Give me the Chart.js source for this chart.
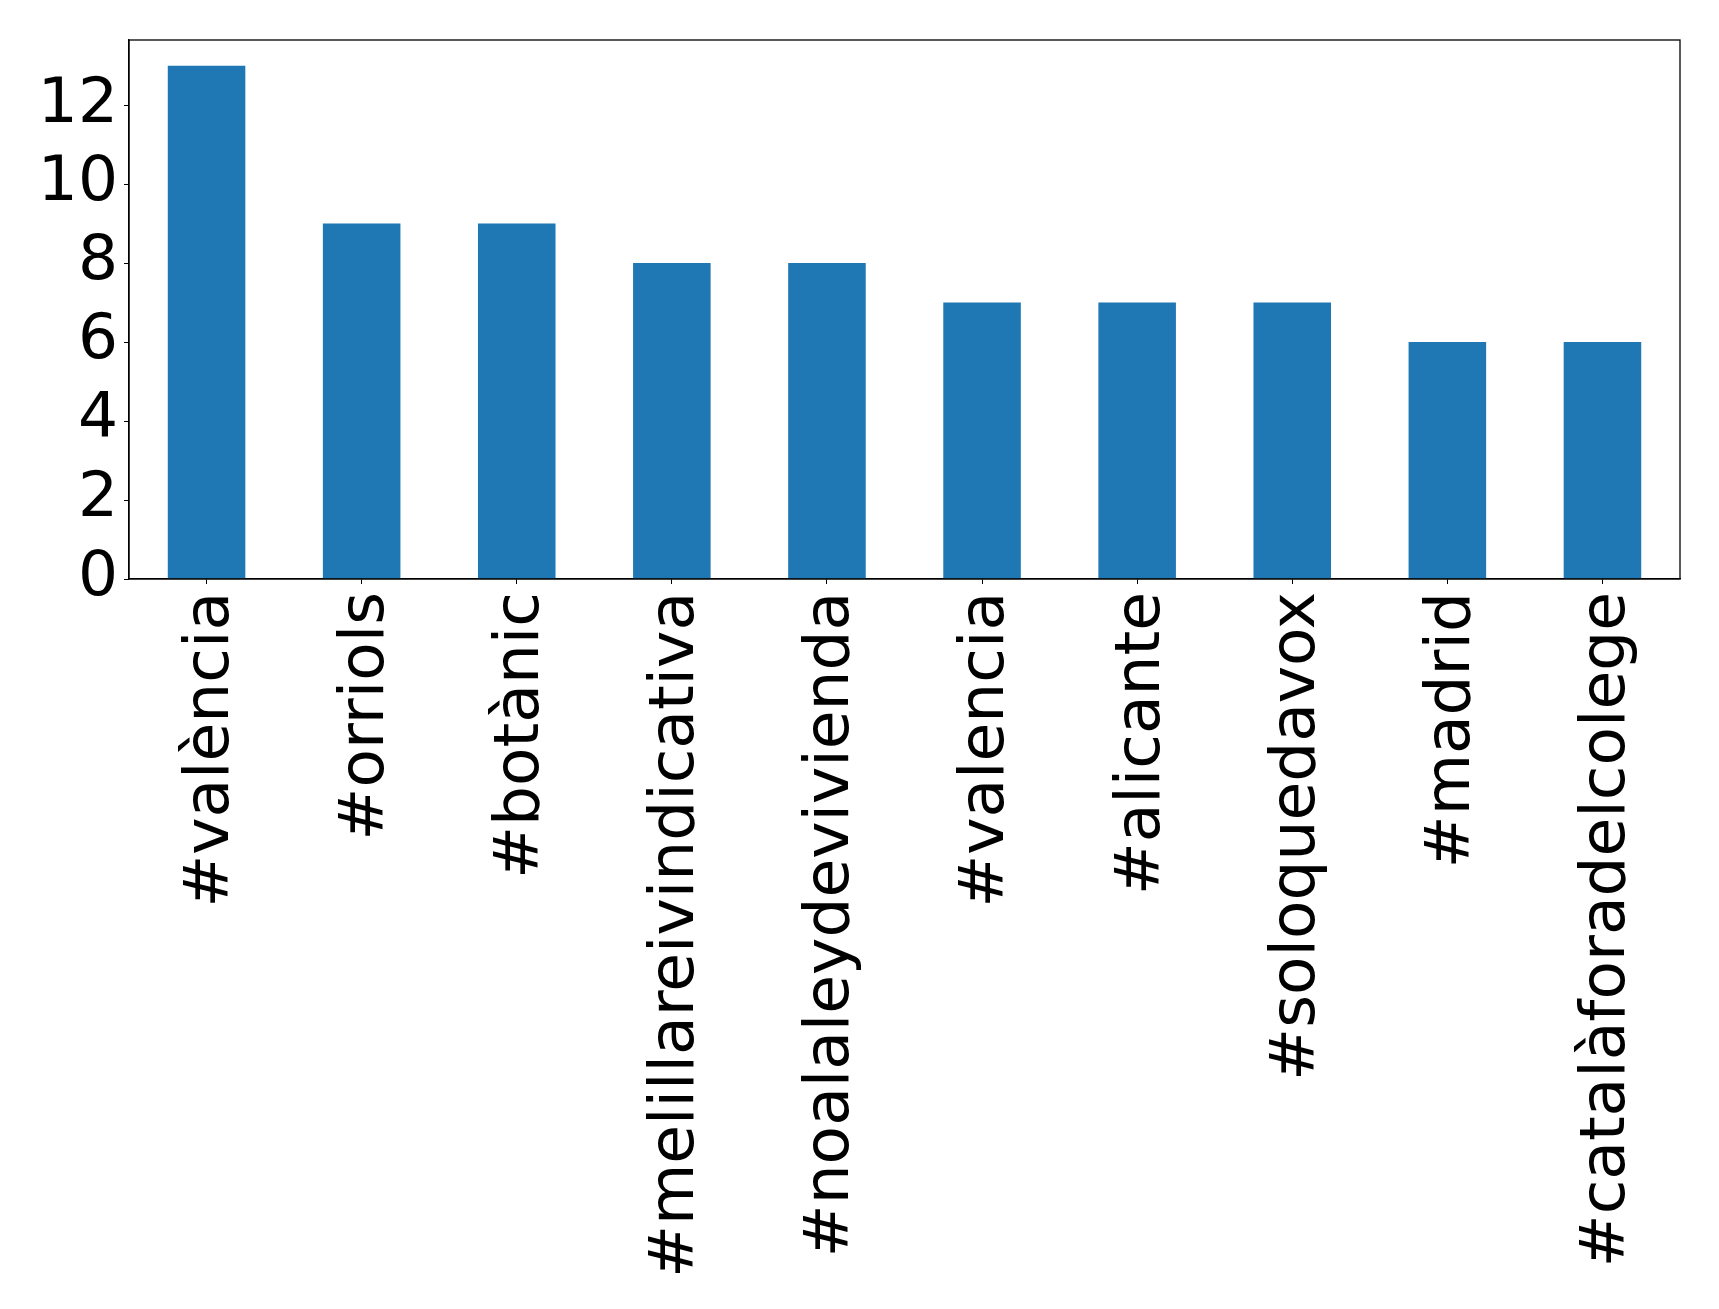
<!DOCTYPE html>
<html>
<head>
<meta charset="utf-8">
<script src="https://cdn.jsdelivr.net/npm/chart.js@4/dist/chart.umd.min.js"></script>
<style>
  html, body { margin: 0; padding: 0; background: #fff; }
  #chart { display: block; }
</style>
</head>
<body>
<canvas id="chart" width="1719" height="1309"></canvas>
<script>
const hashtags = ['#valència', '#orriols', '#botànic', '#melillareivindicativa', '#noalaleydevivienda',
                  '#valencia', '#alicante', '#soloquedavox', '#madrid', '#catalàforadelcolege']
const counts = [13, 9, 9, 8, 8, 7, 7, 7, 6, 6]
const yTicks = [0, 2, 4, 6, 8, 10, 12]
const yMax = 13.65

// box around the plot area, like matplotlib's spines
const frame = {
    id: 'frame',
    afterDraw(chart) {
        const {ctx, chartArea} = chart
        ctx.save()
        ctx.strokeStyle = '#000'
        ctx.lineWidth = 1.3
        ctx.strokeRect(chartArea.left, chartArea.top, chartArea.right - chartArea.left, chartArea.bottom - chartArea.top)
        ctx.restore()
    }
}

let font = { family: 'DejaVu Sans', size: 63 }

new Chart(document.getElementById('chart').getContext('2d'), {
    type: 'bar',
    data: {
        labels: hashtags,
        datasets: [{
            data: counts,
            backgroundColor: '#1f77b4',
            categoryPercentage: 1.0,
            barPercentage: 0.5,
        }]
    },
    options: {
        responsive: false,
        animation: false,
        layout: { padding: { top: 40, right: 39, left: 0, bottom: 0 } },
        plugins: {
            legend: { display: false },
            tooltip: { enabled: false }
        },
        scales: {
            x: {
                grid: {
                    offset: false,
                    drawOnChartArea: false,
                    tickLength: 5,
                    tickColor: '#000',
                },
                border: { display: true, color: '#000', width: 1.3 },
                ticks: {
                    autoSkip: false,
                    minRotation: 90,
                    maxRotation: 90,
                    padding: 8,
                    labelOffset: 5,
                    color: '#000',
                    font: font,
                },
                afterFit(axis) { axis.height = 1309 - 579 }
            },
            y: {
                min: 0,
                max: yMax,
                grid: {
                    drawOnChartArea: false,
                    tickLength: 5,
                    tickColor: '#000',
                },
                border: { display: true, color: '#000', width: 1.3 },
                ticks: {
                    autoSkip: false,
                    padding: 6,
                    color: '#000',
                    font: font,
                },
                afterBuildTicks(axis) {
                    axis.ticks = yTicks.map(v => ({ value: v }))
                },
                afterFit(axis) {
                    axis.width = 129
                    axis.paddingTop = 0
                    axis.paddingBottom = 0
                }
            }
        }
    },
    plugins: [frame]
})
</script>
</body>
</html>
